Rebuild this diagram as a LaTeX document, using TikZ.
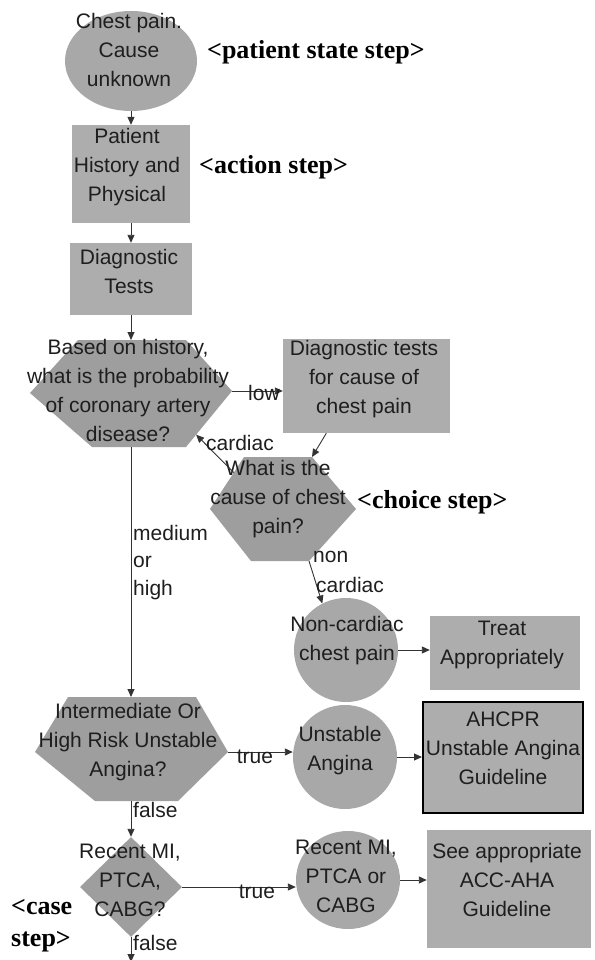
\documentclass[tikz,border=0pt]{standalone}
\usepackage{fontspec}
\setmainfont{Liberation Sans}
\newfontfamily\labelfont{Liberation Serif}
\usetikzlibrary{arrows.meta,shapes.geometric,calc}
\definecolor{ink}{HTML}{1E1E1E}
\definecolor{linec}{HTML}{333333}
\definecolor{boxfill}{HTML}{ADADAD}
\definecolor{roundfill}{HTML}{A8A8A8}
\definecolor{hexfill}{HTML}{9E9E9E}
\begin{document}
\begin{tikzpicture}[x=1pt,y=-1pt,
  txt/.style={font=\fontsize{21}{29}\selectfont, text=ink, align=center, inner sep=0pt},
  lbl/.style={font=\fontsize{21}{29}\selectfont, text=ink, inner sep=0pt},
  steplabel/.style={font=\labelfont\bfseries\fontsize{26}{32}\selectfont, text=black, inner sep=0pt, anchor=west, align=left},
  boxshape/.style={draw=none, fill=boxfill, rectangle, inner sep=0pt},
  roundshape/.style={draw=none, fill=roundfill, ellipse, inner sep=0pt},
  conn/.style={draw=linec, line width=0.9pt, -{Triangle[length=8pt,width=7pt]}},
]
\useasboundingbox (0,0) rectangle (594,960);
\fill[white] (0,0) rectangle (594,960);

% ---- shapes ----
\node[roundshape, minimum width=132pt, minimum height=100pt] (E1) at (131,61) {};
\node[boxshape, minimum width=118pt, minimum height=98pt] (P) at (131,174) {};
\node[boxshape, minimum width=122pt, minimum height=72pt] (D) at (131,279) {};

\coordinate (H1l) at (30,393);
\coordinate (H1tl) at (78,340);
\coordinate (H1tr) at (186,340);
\coordinate (H1r) at (232,391);
\coordinate (H1br) at (186,447);
\coordinate (H1bl) at (92,447);
\coordinate (H1t) at (131,340);
\coordinate (H1b) at (131,447);
\fill[hexfill] (H1l) -- (H1tl) -- (H1tr) -- (H1r) -- (H1br) -- (H1bl) -- cycle;

\node[boxshape, minimum width=167pt, minimum height=94pt] (DT) at (366.5,386) {};

\coordinate (H2l) at (210,509);
\coordinate (H2tl) at (244,457);
\coordinate (H2tr) at (312,457);
\coordinate (H2r) at (356,509);
\coordinate (H2br) at (309,561);
\coordinate (H2bl) at (251,561);
\fill[hexfill] (H2l) -- (H2tl) -- (H2tr) -- (H2r) -- (H2br) -- (H2bl) -- cycle;

\node[roundshape, minimum width=104pt, minimum height=104pt] (NC) at (346,650) {};
\node[boxshape, minimum width=150pt, minimum height=74pt] (T) at (505,653) {};

\coordinate (H3l) at (35,752);
\coordinate (H3tl) at (68,697);
\coordinate (H3tr) at (196,697);
\coordinate (H3r) at (228,752);
\coordinate (H3br) at (178,801);
\coordinate (H3bl) at (95,801);
\coordinate (H3t) at (131,697);
\coordinate (H3b) at (131,801);
\fill[hexfill] (H3l) -- (H3tl) -- (H3tr) -- (H3r) -- (H3br) -- (H3bl) -- cycle;

\node[roundshape, minimum width=104pt, minimum height=104pt] (UA) at (345,757) {};
\node[boxshape, draw=black, line width=2pt, minimum width=160pt, minimum height=111pt] (AH) at (503,757.5) {};

\node[diamond, fill=hexfill, inner sep=0pt, minimum width=102pt, minimum height=100pt] (RM) at (131,887) {};
\node[roundshape, minimum width=104pt, minimum height=98pt] (RC) at (348,880) {};
\node[boxshape, minimum width=164pt, minimum height=118pt] (SA) at (509,889) {};
\coordinate (endc) at (131,962);

% ---- texts ----
\node[txt] (E1t) at (129,50) {Chest pain.\\Cause\\unknown};
\node[txt] (Pt) at (127,167) {Patient\\History and\\Physical};
\node[txt] (Dt) at (129,271) {Diagnostic\\Tests};
\node[txt] (H1x) at (128,390) {Based on history,\\what is the probability\\of coronary artery\\disease?};
\node[txt] (DTt) at (364,379) {Diagnostic tests\\for cause of\\chest pain};
\node[txt] (H2x) at (278,499) {What is the\\cause of chest\\pain?};
\node[txt] (NCt) at (347,641) {Non-cardiac\\chest pain};
\node[txt] (Tt) at (502,645) {Treat\\Appropriately};
\node[txt] (H3x) at (128,742) {Intermediate Or\\High Risk Unstable\\Angina?};
\node[txt] (UAt) at (340,751) {Unstable\\Angina};
\node[txt] (AHt) at (503,748) {AHCPR\\Unstable Angina\\Guideline};
\node[txt] (RMt) at (130,880) {Recent MI,\\PTCA,\\CABG?};
\node[txt] (RCt) at (346,876) {Recent MI,\\PTCA or\\CABG};
\node[txt] (SAt) at (507,880) {See appropriate\\ACC-AHA\\Guideline};

% ---- connectors ----
\draw[conn] (E1.south) -- (E1.south |- P.north);
\draw[conn] (P.south) -- (D.north);
\draw[conn] (D.south) -- (H1t);
\draw[conn] (H1r) -- (H1r -| DT.west);
\coordinate (DTb) at ($(DT.south west)!0.26!(DT.south east)$);
\draw[conn] (DTb) -- (H2tr);
\coordinate (H2c) at ($(H2l)!0.7!(H2tl)$);
\coordinate (H1c) at ($(H1r)!0.78!(H1br)$);
\draw[conn] (H2c) -- (H1c);
\draw[conn] (H1b) -- (H3t);
\draw[conn] (H2br) -- (NC.117);
\draw[conn] (NC.east) -- (NC.east -| T.west);
\draw[conn] (H3r) -- (H3r -| UA.west);
\draw[conn] (UA.east) -- (UA.east -| AH.west);
\draw[conn] (H3b) -- (RM.north);
\draw[conn] (RM.east) -- (RM.east -| RC.west);
\draw[conn] (RC.east) -- (RC.east -| SA.west);
\draw[conn] (RM.south) -- (endc);

% ---- connector labels ----
\node[lbl] (lowl) at (264,393) {low};
\node[lbl] (cardl) at (240,443) {cardiac};
\node[lbl, anchor=west] (medl) at (133,533) {medium};
\node[lbl, anchor=west] (orl) at (133,562) {or};
\node[lbl, anchor=west] (highl) at (133,590) {high};
\node[lbl, anchor=west] (nonl) at (313,557) {non};
\node[lbl, anchor=west] (ncardl) at (316,585) {cardiac};
\node[lbl] (true1) at (255,757) {true};
\node[lbl, anchor=west] (false1) at (133,810) {false};
\node[lbl] (true2) at (257,892) {true};
\node[lbl, anchor=west] (false2) at (133,943) {false};

% ---- step labels ----
\node[steplabel] (L1) at (207,52) {<patient state step>};
\node[steplabel] (L2) at (199,167) {<action step>};
\node[steplabel] (L3) at (357,502) {<choice step>};
\node[steplabel] (L4) at (11,926) {<case\\step>};
\end{tikzpicture}
\end{document}
